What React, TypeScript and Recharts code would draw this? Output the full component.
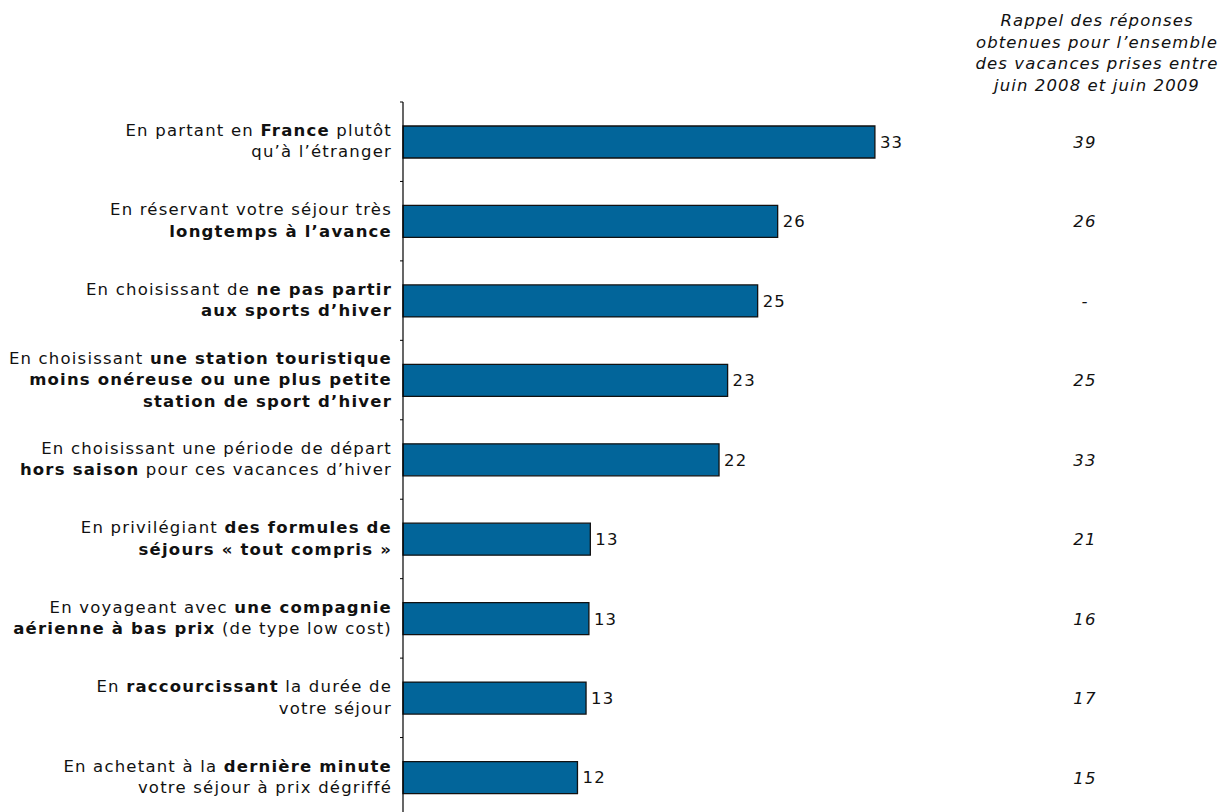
import React from 'react';
import { BarChart, Bar, XAxis, YAxis, LabelList } from 'recharts';

// categories: "\n" splits lines, **...** marks bold parts
const categories = [
  'En partant en **France** plutôt\nqu’à l’étranger',
  'En réservant votre séjour très\n**longtemps à l’avance**',
  'En choisissant de **ne pas partir**\n**aux sports d’hiver**',
  'En choisissant **une station touristique**\n**moins onéreuse ou une plus petite**\n**station de sport d’hiver**',
  'En choisissant une période de départ\n**hors saison** pour ces vacances d’hiver',
  'En privilégiant **des formules de**\n**séjours « tout compris »**',
  'En voyageant avec **une compagnie**\n**aérienne à bas prix** (de type low cost)',
  'En **raccourcissant** la durée de\nvotre séjour',
  'En achetant à la **dernière minute**\nvotre séjour à prix dégriffé',
];
const values = [33, 26.2, 24.8, 22.7, 22.1, 13.1, 13.0, 12.8, 12.2];
const recall = ['39', '26', '-', '25', '33', '21', '16', '17', '15'];
const headerLines = [
  'Rappel des réponses',
  'obtenues pour l’ensemble',
  'des vacances prises entre',
  'juin 2008 et juin 2009',
];

const data = categories.map((label, i) => ({ label, value: values[i], recall: recall[i] }));

const FONT = '"DejaVu Sans", Verdana, sans-serif';
const BAR_COLOR = '#02659A';
const W = 1221;
const H = 817;
const TOP = 102;
const LEFT = 403;
const RIGHT_W = 246;
const BAND = (H - TOP) / categories.length;
const RECALL_X = 1085;
const FS = 16.5;
const LS = 1.2;

function parseLine(line: string) {
  const parts = line.split('**');
  return parts.map((text, i) => ({ text, bold: i % 2 === 1 })).filter((p) => p.text);
}

function CategoryTick(props: any) {
  const { x, y, payload } = props;
  const lines = String(payload.value).split('\n');
  const lh = 21.5;
  return (
    <g>
      <line x1={x - 3} x2={x} y1={y - BAND / 2} y2={y - BAND / 2} stroke="#000" strokeWidth={1} />
      <text
        x={x - 11}
        y={y}
        textAnchor="end"
        fontFamily={FONT}
        fontSize={FS}
        letterSpacing={LS}
        fill="#111"
      >
        {lines.map((ln, i) => (
          <tspan key={i} x={x - 11} y={y + 5 + (i - (lines.length - 1) / 2) * lh}>
            {parseLine(ln).map((p, j) => (
              <tspan key={j} fontWeight={p.bold ? 'bold' : 'normal'}>
                {p.text}
              </tspan>
            ))}
          </tspan>
        ))}
      </text>
    </g>
  );
}

function RecallLabel(props: any) {
  const { y, height, index } = props;
  return (
    <text
      x={RECALL_X}
      y={y + height / 2 + 6}
      textAnchor="middle"
      fontFamily={FONT}
      fontSize={FS}
      fontStyle="italic"
      letterSpacing={LS}
      fill="#111"
    >
      {recall[index]}
    </text>
  );
}

export default function App() {
  return (
    <div
      style={{
        position: 'absolute',
        left: 0,
        top: 0,
        width: W,
        height: 812,
        overflow: 'hidden',
        background: '#fff',
      }}
    >
      <div
        style={{
          position: 'absolute',
          left: 957,
          top: 10,
          width: 280,
          textAlign: 'center',
          fontFamily: FONT,
          fontStyle: 'italic',
          fontSize: FS,
          letterSpacing: 1.1,
          lineHeight: '21.7px',
          color: '#111',
        }}
      >
        {headerLines.map((l) => (
          <div key={l} style={{ whiteSpace: 'nowrap' }}>
            {l}
          </div>
        ))}
      </div>
      <BarChart
        width={W}
        height={H}
        data={data}
        layout="vertical"
        margin={{ top: TOP, right: RIGHT_W, bottom: 0, left: 0 }}
        barCategoryGap="0%"
      >
        <XAxis type="number" domain={[0, 40]} hide />
        <YAxis
          type="category"
          dataKey="label"
          width={LEFT}
          axisLine={{ stroke: '#000', strokeWidth: 1.2 }}
          tickLine={false}
          tickSize={0}
          tickMargin={0}
          interval={0}
          tick={<CategoryTick />}
        />
        <Bar
          dataKey="value"
          fill={BAR_COLOR}
          stroke="#111"
          strokeWidth={1.3}
          barSize={32}
          isAnimationActive={false}
        >
          <LabelList
            dataKey="value"
            position="right"
            offset={5}
            formatter={(v: any) => String(Math.round(Number(v)))}
            style={{ fontFamily: FONT, fontSize: FS, letterSpacing: LS, fill: '#111' }}
          />
          <LabelList dataKey="recall" content={<RecallLabel />} />
        </Bar>
      </BarChart>
    </div>
  );
}
